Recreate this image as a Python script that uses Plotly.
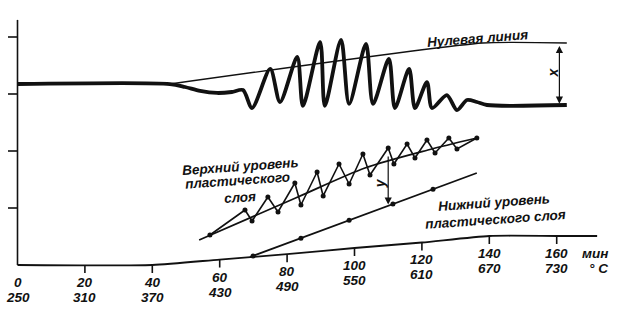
import numpy as np
import plotly.graph_objects as go

# ---- data (x in minutes, y in recorder units) ----
axis_x = [0, 40, 60, 80, 100, 120, 140, 160, 172]
axis_y = [0, 0, 0.096, 0.19, 0.298, 0.395, 0.509, 0.509, 0.509]

tick_min = [0, 20, 40, 60, 80, 100, 120, 140, 160]
tick_temp = [250, 310, 370, 430, 490, 550, 610, 670, 730]
ytick_vals = [1, 2, 3, 4]

curve_x = [0, 45.25, 49.7, 54.2, 59.2, 63.6, 66.9, 69.6, 75.0, 77.9, 83.0, 84.7,
           89.8, 91.2, 96.0, 98.4, 103.4, 105.5, 110.2, 112.0, 116.2, 117.95,
           121.5, 123.0, 127.4, 130.4, 133.4, 136.3, 139.3, 163.0]
curve_y = [3.175, 3.175, 3.123, 3.053, 3.018, 3.035, 3.070, 2.754, 3.439, 2.86,
           3.649, 2.79, 3.912, 2.79, 3.947, 2.825, 3.877, 2.825, 3.614, 2.754,
           3.439, 2.754, 3.21, 2.754, 2.982, 2.719, 2.895, 2.86, 2.807, 2.807]

zero_x = [45.25, 138, 163]
zero_y = [3.175, 3.895, 3.895]

upper_line_x = [53.9, 83.2, 103.1, 121.8, 136.3]
upper_line_y = [0.439, 1.193, 1.702, 2.018, 2.228]

zig_x = [57.1, 67.5, 69.6, 74.3, 77.3, 82.3, 84.1, 88.9, 90.7, 95.4, 98.4, 102.5,
         104.6, 110.0, 111.7, 115.6, 117.95, 121.5, 123.9, 128.0, 130.4, 136.3]
zig_y = [0.526, 0.965, 0.772, 1.193, 0.930, 1.439, 1.053, 1.632, 1.211, 1.772,
         1.421, 1.947, 1.579, 2.053, 1.772, 2.123, 1.877, 2.193, 1.965, 2.228,
         2.035, 2.228]

lower_x = [69.0, 136.3]
lower_y = [0.140, 1.614]
lower_dot_x = [69.9, 84.1, 98.4, 111.4, 123.3]

# ---- scale helpers (pixel layout of the original) ----
PX_PER_MIN = 3.37
PX_PER_UNIT = 57.0
W, H = 617, 323
x_left_px, y_base_px = 17.5, 265

xr = [-x_left_px / PX_PER_MIN, (W - x_left_px) / PX_PER_MIN]
yr = [-(H - y_base_px) / PX_PER_UNIT, y_base_px / PX_PER_UNIT]

BLACK = "#111111"
fig = go.Figure()

# bottom (curved) time/temperature axis
fig.add_trace(go.Scatter(x=axis_x, y=axis_y, mode="lines",
                         line=dict(color=BLACK, width=1.8, shape="spline", smoothing=0.6),
                         hoverinfo="skip"))
# bottom tick marks
tx, ty = [], []
tick_len = 8 / PX_PER_UNIT
for m in tick_min[1:]:
    a = float(np.interp(m, axis_x, axis_y))
    tx += [m, m, None]
    ty += [a, a - tick_len, None]
fig.add_trace(go.Scatter(x=tx, y=ty, mode="lines", line=dict(color=BLACK, width=1.6),
                         hoverinfo="skip"))

# vertical axis
fig.add_trace(go.Scatter(x=[0, 0], y=[0, 4.3], mode="lines",
                         line=dict(color=BLACK, width=1.6), hoverinfo="skip"))
yx, yy = [], []
for v in ytick_vals:
    yx += [-9.5 / PX_PER_MIN, 0, None]
    yy += [v, v, None]
fig.add_trace(go.Scatter(x=yx, y=yy, mode="lines", line=dict(color=BLACK, width=1.6),
                         hoverinfo="skip"))

# zero line
fig.add_trace(go.Scatter(x=zero_x, y=zero_y, mode="lines",
                         line=dict(color=BLACK, width=1.4, shape="spline", smoothing=0.5),
                         hoverinfo="skip"))
# main plastometric curve
fig.add_trace(go.Scatter(x=curve_x, y=curve_y, mode="lines",
                         line=dict(color=BLACK, width=3.8, shape="spline", smoothing=0.8),
                         hoverinfo="skip"))

# upper plastic layer
fig.add_trace(go.Scatter(x=upper_line_x, y=upper_line_y, mode="lines",
                         line=dict(color=BLACK, width=1.7, shape="spline", smoothing=0.8),
                         hoverinfo="skip"))
fig.add_trace(go.Scatter(x=zig_x, y=zig_y, mode="lines+markers",
                         line=dict(color=BLACK, width=1.6),
                         marker=dict(color=BLACK, size=5), hoverinfo="skip"))

# lower plastic layer
fig.add_trace(go.Scatter(x=lower_x, y=lower_y, mode="lines",
                         line=dict(color=BLACK, width=1.8), hoverinfo="skip"))
lower_dot_y = list(np.interp(lower_dot_x, lower_x, lower_y))
fig.add_trace(go.Scatter(x=lower_dot_x, y=lower_dot_y, mode="markers",
                         marker=dict(color=BLACK, size=5), hoverinfo="skip"))

FONT = dict(family="Liberation Sans", color=BLACK, weight="bold", style="italic")
ann = []
# tick labels
off1 = 17.5 / PX_PER_UNIT
off2 = 32.5 / PX_PER_UNIT
for m, t in zip(tick_min, tick_temp):
    a = float(np.interp(m, axis_x, axis_y))
    ann.append(dict(x=m, y=a - off1, text=str(m), showarrow=False,
                    font=dict(FONT, size=13.5)))
    ann.append(dict(x=m, y=a - off2, text=str(t), showarrow=False,
                    font=dict(FONT, size=13.5)))
a_end = axis_y[-1]
ann.append(dict(x=171.5, y=a_end - off1, text="мин", showarrow=False,
                font=dict(FONT, size=13.5)))
ann.append(dict(x=172.4, y=a_end - off2, text="° С", showarrow=False,
                font=dict(FONT, size=13.5)))

# text labels
ann.append(dict(x=136.6, y=3.965, text="Нулевая линия", showarrow=False,
                textangle=-4.5, font=dict(FONT, size=13.5)))
ann.append(dict(x=66.3, y=1.72, text="Верхний уровень", showarrow=False,
                textangle=-4, font=dict(FONT, size=13.5)))
ann.append(dict(x=65.4, y=1.474, text="пластического", showarrow=False,
                textangle=-4, font=dict(FONT, size=13.5)))
ann.append(dict(x=66.0, y=1.193, text="слоя", showarrow=False,
                textangle=-4, font=dict(FONT, size=13.5)))
ann.append(dict(x=141.4, y=1.105, text="Нижний уровень", showarrow=False,
                textangle=-4, font=dict(FONT, size=13.5)))
ann.append(dict(x=141.7, y=0.807, text="пластического слоя", showarrow=False,
                textangle=-4, font=dict(FONT, size=13.5)))

# x arrow (double headed)
ann.append(dict(x=160.8, y=2.83, ax=160.8, ay=3.87, axref="x", ayref="y",
                xref="x", yref="y", text="", showarrow=True, arrowhead=2,
                arrowside="end+start", arrowwidth=1.2, arrowsize=1.2,
                arrowcolor=BLACK, standoff=0, startstandoff=0))
ann.append(dict(x=158.8, y=3.37, text="х", showarrow=False, textangle=-90,
                font=dict(FONT, size=14)))
# y arrow
ann.append(dict(x=110.0, y=1.06, ax=110.0, ay=1.93, axref="x", ayref="y",
                xref="x", yref="y", text="", showarrow=True, arrowhead=2,
                arrowwidth=1.2, arrowsize=1.2, arrowcolor=BLACK, standoff=0))
ann.append(dict(x=107.4, y=1.44, text="у", showarrow=False, textangle=-90,
                font=dict(FONT, size=14)))

fig.update_layout(
    width=W, height=H, margin=dict(l=0, r=0, t=0, b=0),
    paper_bgcolor="white", plot_bgcolor="white", showlegend=False,
    xaxis=dict(range=xr, visible=False, fixedrange=True),
    yaxis=dict(range=yr, visible=False, fixedrange=True),
    annotations=ann,
)
fig.write_html("out.html")
